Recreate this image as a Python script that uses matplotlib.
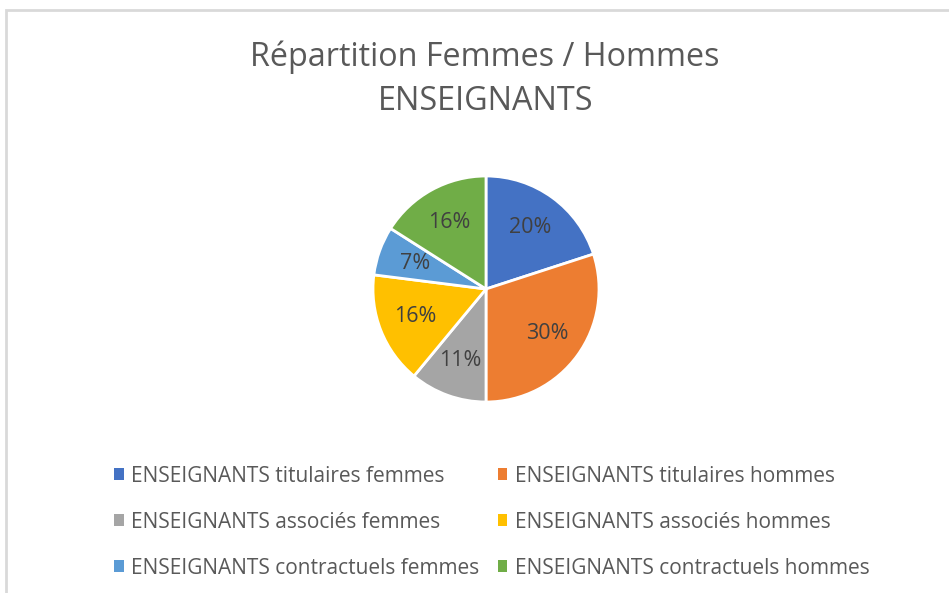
import matplotlib.pyplot as plt
from matplotlib.patches import Rectangle, Patch

plt.rcParams['font.family'] = ['Open Sans', 'DejaVu Sans']

# Data
categories = [
    "ENSEIGNANTS titulaires femmes",
    "ENSEIGNANTS titulaires hommes",
    "ENSEIGNANTS associés femmes",
    "ENSEIGNANTS associés hommes",
    "ENSEIGNANTS contractuels femmes",
    "ENSEIGNANTS contractuels hommes",
]
values = [20, 30, 11, 16, 7, 16]
colors = ["#4472C4", "#ED7D31", "#A5A5A5", "#FFC000", "#5B9BD5", "#70AD47"]

W, H = 949, 593
fig = plt.figure(figsize=(W / 100, H / 100), dpi=100)

# chart frame (cut at right/bottom like the screenshot)
fig.patches.append(Rectangle((6 / W, -0.1), 1.2, 1 - 10 / H + 0.1,
                             transform=fig.transFigure, fill=False,
                             edgecolor="#d9d9d9", lw=2))

fig.text(485 / W, 1 - 57 / H, "Répartition Femmes / Hommes", ha="center",
         va="center", fontsize=23.3, color="#595959")
fig.text(486 / W, 1 - 101 / H, "ENSEIGNANTS", ha="center", va="center",
         fontsize=23.3, color="#595959")

cx, cy, r = 486, 289, 113
ax = fig.add_axes([(cx - r) / W, 1 - (cy + r) / H, 2 * r / W, 2 * r / H])
wedges, _, autotexts = ax.pie(values, colors=colors, startangle=90, counterclock=False,
                              autopct="%1.0f%%", pctdistance=0.67,
                              wedgeprops=dict(edgecolor="white", linewidth=2),
                              textprops=dict(color="#404040", fontsize=15.5))
ax.set_xlim(-1, 1)
ax.set_ylim(-1, 1)
ax.set_aspect("equal")

handles = [Patch(facecolor=c, edgecolor="none") for c in colors]
order = [0, 2, 4, 1, 3, 5]
fig.legend([handles[i] for i in order], [categories[i] for i in order],
           ncol=2, loc="center", bbox_to_anchor=(492 / W, 1 - 522 / H),
           frameon=False, fontsize=15, labelcolor="#595959",
           handlelength=0.45, handleheight=0.45, handletextpad=0.35,
           columnspacing=0.9, labelspacing=1.2)

fig.savefig("out.png", dpi=100)
